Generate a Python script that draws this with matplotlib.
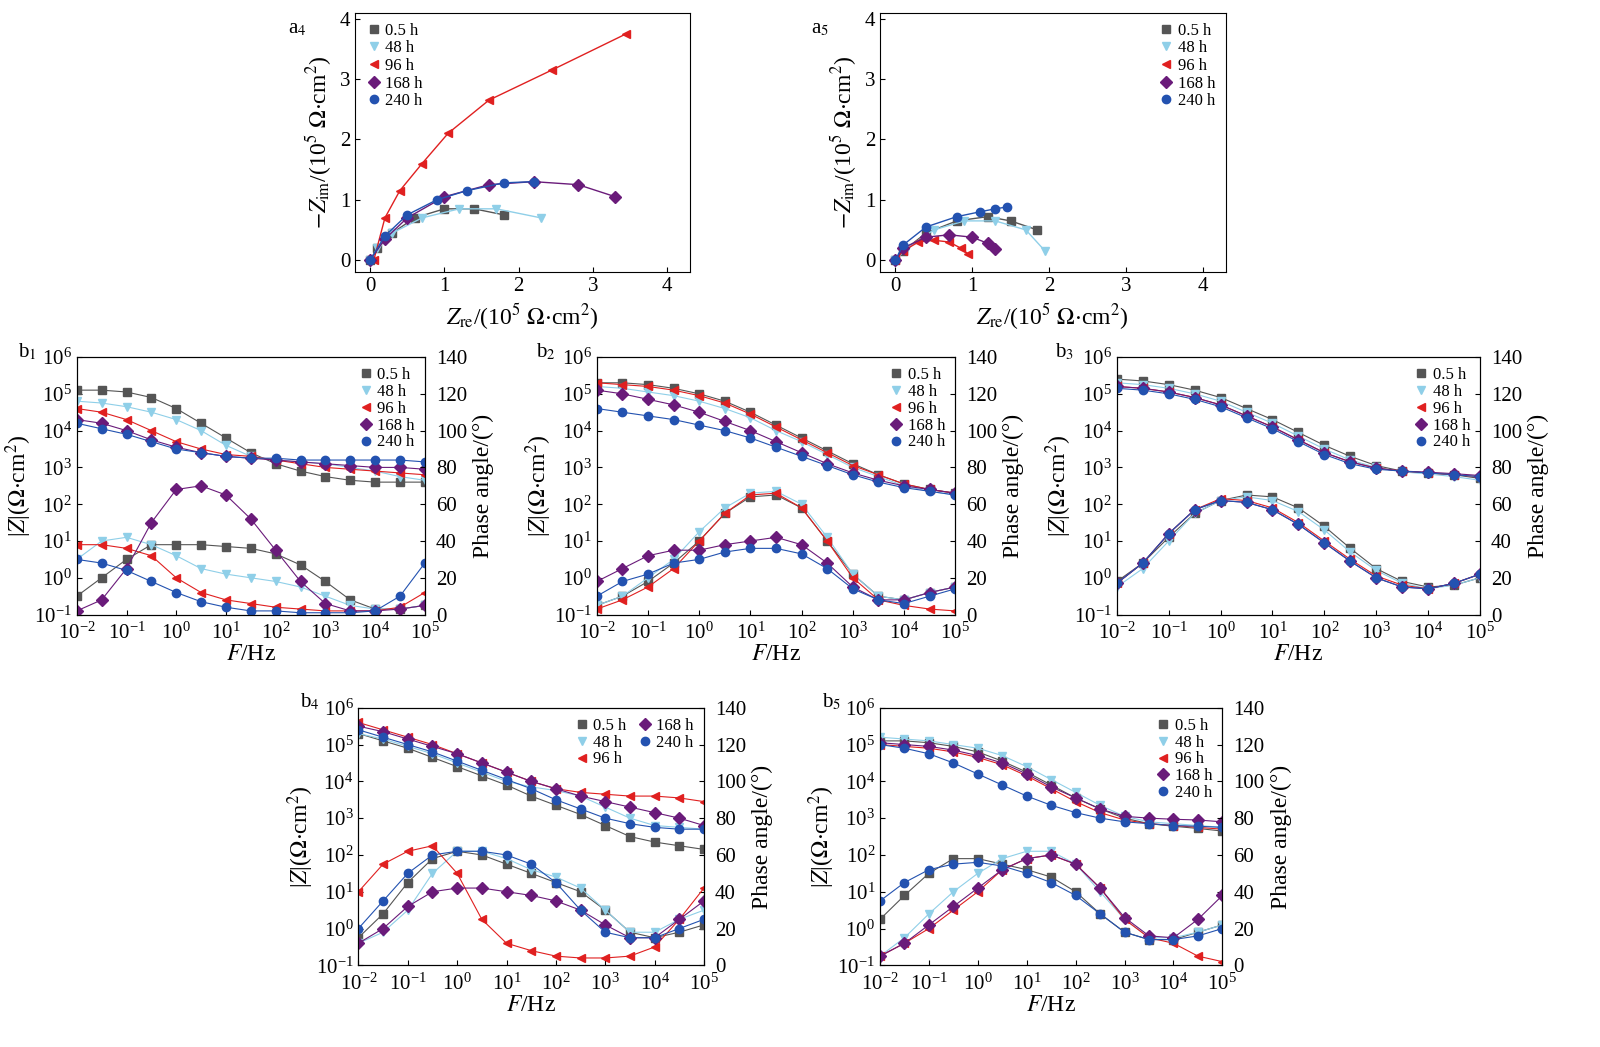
import numpy as np
import matplotlib.pyplot as plt

plt.rcParams['font.family'] = ['Liberation Serif', 'DejaVu Serif']
plt.rcParams['mathtext.fontset'] = 'stix'

labels = ['0.5 h', '48 h', '96 h', '168 h', '240 h']
colors = ['#555555', '#8fcfe8', '#e02020', '#6a1b7a', '#2352b0']
markers = ['s', 'v', '<', 'D', 'o']

# Nyquist data (units 1e5 ohm cm2)
a4_re = [[0, 0.1, 0.3, 0.6, 1.0, 1.4, 1.8],
         [0, 0.1, 0.3, 0.7, 1.2, 1.7, 2.3],
         [0.05, 0.2, 0.4, 0.7, 1.05, 1.6, 2.45, 3.45],
         [0, 0.2, 0.5, 1.0, 1.6, 2.2, 2.8, 3.3],
         [0, 0.2, 0.5, 0.9, 1.3, 1.8, 2.2]]
a4_im = [[0, 0.2, 0.45, 0.7, 0.85, 0.85, 0.75],
         [0, 0.2, 0.45, 0.7, 0.85, 0.85, 0.7],
         [0, 0.7, 1.15, 1.6, 2.1, 2.65, 3.15, 3.75],
         [0, 0.35, 0.7, 1.05, 1.25, 1.3, 1.25, 1.05],
         [0, 0.4, 0.75, 1.0, 1.15, 1.28, 1.3]]
a5_re = [[0, 0.1, 0.4, 0.8, 1.2, 1.5, 1.85],
         [0, 0.15, 0.5, 0.9, 1.3, 1.7, 1.95],
         [0, 0.1, 0.3, 0.5, 0.7, 0.85, 0.95],
         [0, 0.1, 0.4, 0.7, 1.0, 1.2, 1.3],
         [0, 0.1, 0.4, 0.8, 1.1, 1.3, 1.45]]
a5_im = [[0, 0.15, 0.45, 0.65, 0.72, 0.65, 0.5],
         [0, 0.2, 0.5, 0.65, 0.65, 0.5, 0.15],
         [0, 0.15, 0.3, 0.33, 0.3, 0.2, 0.1],
         [0, 0.2, 0.38, 0.42, 0.38, 0.28, 0.18],
         [0, 0.25, 0.55, 0.72, 0.8, 0.85, 0.88]]

# Bode data: frequency every half decade, log10|Z| and phase (deg)
logf = [-2, -1.5, -1, -0.5, 0, 0.5, 1, 1.5, 2, 2.5, 3, 3.5, 4, 4.5, 5]

b1_z = [[5.1, 5.1, 5.05, 4.9, 4.6, 4.2, 3.8, 3.4, 3.1, 2.9, 2.75, 2.65, 2.6, 2.6, 2.6],
        [4.8, 4.75, 4.65, 4.5, 4.3, 4.0, 3.6, 3.3, 3.2, 3.15, 3.1, 3.0, 2.9, 2.75, 2.65],
        [4.6, 4.5, 4.3, 4.0, 3.7, 3.5, 3.35, 3.3, 3.2, 3.1, 3.0, 2.95, 2.9, 2.85, 2.8],
        [4.3, 4.2, 4.0, 3.75, 3.55, 3.4, 3.3, 3.25, 3.2, 3.15, 3.1, 3.05, 3.0, 3.0, 2.95],
        [4.2, 4.05, 3.9, 3.7, 3.5, 3.4, 3.3, 3.25, 3.25, 3.2, 3.2, 3.2, 3.2, 3.2, 3.15]]
b1_p = [[10, 20, 30, 38, 38, 38, 37, 36, 33, 27, 18, 8, 3, 3, 5],
        [30, 40, 42, 38, 32, 25, 22, 20, 18, 15, 10, 5, 3, 3, 5],
        [38, 38, 36, 32, 20, 12, 8, 6, 4, 3, 2, 2, 2, 4, 12],
        [2, 8, 25, 50, 68, 70, 65, 52, 35, 18, 6, 2, 2, 3, 5],
        [30, 28, 24, 18, 12, 7, 4, 2, 2, 1, 1, 1, 2, 10, 28]]

b2_z = [[5.3, 5.3, 5.25, 5.15, 5.0, 4.8, 4.5, 4.15, 3.8, 3.45, 3.1, 2.8, 2.55, 2.4, 2.3],
        [5.2, 5.15, 5.05, 4.95, 4.8, 4.6, 4.35, 4.0, 3.7, 3.35, 3.0, 2.75, 2.5, 2.35, 2.25],
        [5.3, 5.25, 5.2, 5.1, 4.95, 4.75, 4.45, 4.1, 3.75, 3.4, 3.05, 2.8, 2.55, 2.4, 2.3],
        [5.1, 5.0, 4.85, 4.7, 4.5, 4.25, 4.0, 3.7, 3.4, 3.1, 2.85, 2.65, 2.5, 2.4, 2.3],
        [4.6, 4.5, 4.4, 4.3, 4.15, 4.0, 3.8, 3.55, 3.3, 3.05, 2.8, 2.6, 2.45, 2.35, 2.25]]
b2_p = [[5, 10, 18, 28, 40, 55, 64, 65, 58, 40, 22, 10, 8, 12, 15],
        [5, 10, 20, 30, 45, 58, 66, 67, 60, 42, 22, 10, 8, 12, 15],
        [3, 8, 15, 25, 40, 55, 65, 66, 58, 40, 20, 8, 5, 3, 2],
        [18, 25, 32, 35, 35, 38, 40, 42, 38, 28, 15, 8, 8, 12, 15],
        [10, 18, 22, 28, 30, 34, 36, 36, 33, 25, 14, 8, 6, 10, 14]]

b3_z = [[5.4, 5.35, 5.25, 5.1, 4.9, 4.6, 4.3, 3.95, 3.6, 3.3, 3.05, 2.9, 2.85, 2.8, 2.7],
        [5.3, 5.25, 5.15, 5.0, 4.8, 4.5, 4.2, 3.85, 3.5, 3.2, 3.0, 2.88, 2.82, 2.75, 2.65],
        [5.2, 5.15, 5.05, 4.9, 4.7, 4.4, 4.1, 3.75, 3.4, 3.15, 2.98, 2.9, 2.85, 2.8, 2.75],
        [5.2, 5.15, 5.05, 4.9, 4.7, 4.4, 4.1, 3.75, 3.4, 3.15, 2.98, 2.9, 2.87, 2.83, 2.78],
        [5.15, 5.1, 5.0, 4.85, 4.65, 4.35, 4.05, 3.7, 3.35, 3.1, 2.95, 2.9, 2.85, 2.8, 2.75]]
b3_p = [[18, 28, 42, 55, 62, 65, 64, 58, 48, 36, 25, 18, 15, 16, 20],
        [15, 25, 40, 55, 62, 64, 62, 56, 46, 34, 24, 17, 14, 16, 20],
        [17, 28, 44, 57, 63, 62, 58, 50, 40, 30, 21, 16, 14, 17, 22],
        [17, 28, 44, 57, 62, 61, 57, 49, 39, 29, 20, 15, 14, 17, 22],
        [17, 28, 44, 57, 62, 61, 57, 49, 39, 29, 20, 15, 14, 17, 22]]

b4_z = [[5.3, 5.1, 4.9, 4.65, 4.4, 4.15, 3.9, 3.6, 3.35, 3.1, 2.8, 2.5, 2.35, 2.25, 2.15],
        [5.3, 5.15, 4.95, 4.75, 4.5, 4.25, 4.0, 3.85, 3.75, 3.6, 3.3, 3.0, 2.8, 2.75, 2.7],
        [5.6, 5.4, 5.2, 5.0, 4.75, 4.5, 4.25, 4.0, 3.8, 3.7, 3.65, 3.6, 3.6, 3.55, 3.45],
        [5.5, 5.35, 5.15, 4.95, 4.75, 4.5, 4.25, 4.0, 3.8, 3.6, 3.45, 3.3, 3.15, 3.0, 2.8],
        [5.4, 5.2, 5.0, 4.8, 4.55, 4.3, 4.05, 3.8, 3.5, 3.25, 3.0, 2.85, 2.75, 2.7, 2.7]]
b4_p = [[15, 28, 45, 58, 62, 60, 55, 50, 45, 40, 30, 18, 15, 18, 22],
        [12, 18, 30, 50, 62, 62, 58, 52, 48, 42, 30, 18, 18, 25, 30],
        [40, 55, 62, 65, 50, 25, 12, 8, 5, 4, 4, 5, 10, 25, 42],
        [12, 20, 32, 40, 42, 42, 40, 38, 35, 30, 22, 15, 15, 25, 35],
        [20, 35, 50, 60, 62, 62, 60, 55, 45, 30, 18, 15, 15, 20, 25]]

b5_z = [[5.1, 5.1, 5.05, 4.95, 4.8, 4.55, 4.25, 3.9, 3.55, 3.25, 3.0, 2.85, 2.78, 2.72, 2.65],
        [5.2, 5.15, 5.1, 5.0, 4.9, 4.7, 4.4, 4.05, 3.7, 3.35, 3.05, 2.9, 2.85, 2.8, 2.75],
        [5.0, 4.95, 4.9, 4.8, 4.65, 4.45, 4.15, 3.8, 3.45, 3.15, 2.95, 2.85, 2.8, 2.75, 2.7],
        [5.05, 5.0, 4.95, 4.85, 4.7, 4.5, 4.2, 3.85, 3.55, 3.25, 3.05, 3.0, 2.97, 2.95, 2.9],
        [5.0, 4.9, 4.75, 4.5, 4.2, 3.9, 3.6, 3.35, 3.15, 3.0, 2.9, 2.85, 2.8, 2.78, 2.75]]
b5_p = [[25, 38, 50, 58, 58, 55, 52, 48, 40, 28, 18, 14, 14, 18, 22],
        [5, 15, 28, 40, 50, 58, 62, 62, 55, 40, 25, 15, 15, 18, 22],
        [5, 12, 20, 30, 40, 52, 58, 60, 55, 42, 25, 15, 12, 5, 2],
        [5, 12, 22, 32, 42, 52, 58, 60, 55, 42, 26, 16, 15, 25, 38],
        [35, 45, 52, 55, 56, 54, 50, 45, 38, 28, 18, 14, 14, 16, 20]]

fig = plt.figure(figsize=(16, 10.47), dpi=100)
fs = 15


def nyquist(rect, re, im, tag, legloc):
    ax = fig.add_axes(rect)
    for i in range(5):
        ax.plot(re[i], im[i], color=colors[i], lw=1)
        ax.plot(re[i], im[i], ls='none', marker=markers[i], color=colors[i], ms=6, label=labels[i])
    ax.set_xlim(-0.2, 4.3)
    ax.set_ylim(-0.2, 4.1)
    ax.set_xticks(range(5))
    ax.set_yticks(range(5))
    ax.tick_params(labelsize=fs, direction='in')
    ax.set_xlabel(r'$Z_{\rm re}$/(10$^5$ $\Omega$$\cdot$cm$^2$)', fontsize=fs + 2)
    ax.set_ylabel(r'$-Z_{\rm im}$/(10$^5$ $\Omega$$\cdot$cm$^2$)', fontsize=fs + 2)
    ax.legend(loc=legloc, fontsize=12, frameon=False, handletextpad=0.2, labelspacing=0.1,
              borderaxespad=0.2, handlelength=1)
    ax.text(-0.2, 0.92, tag, transform=ax.transAxes, fontsize=fs)


def bode(rect, zz, pp, tag, ncol=1):
    ax = fig.add_axes(rect)
    f = 10.0 ** np.array(logf)
    for i in range(5):
        ax.plot(f, 10.0 ** np.array(zz[i]), color=colors[i], lw=0.8)
        ax.plot(f, 10.0 ** np.array(zz[i]), ls='none', marker=markers[i], color=colors[i],
                ms=6, label=labels[i])
    ax.set_xscale('log')
    ax.set_yscale('log')
    ax.set_xlim(1e-2, 1e5)
    ax.set_ylim(1e-1, 1e6)
    ax.set_xticks(10.0 ** np.arange(-2, 6))
    ax.set_yticks(10.0 ** np.arange(-1, 7))
    ax.minorticks_off()
    ax.tick_params(labelsize=fs, direction='in')
    ax.tick_params(axis='x', pad=6)
    ax.set_xlabel(r'$F$/Hz', fontsize=fs + 2, labelpad=0)
    ax.set_ylabel(r'|$Z$|($\Omega$$\cdot$cm$^2$)', fontsize=fs + 2, labelpad=0)
    ax2 = ax.twinx()
    for i in range(5):
        ax2.plot(f, pp[i], color=colors[i], lw=0.8)
        ax2.plot(f, pp[i], ls='none', marker=markers[i], color=colors[i], ms=6)
    ax2.set_ylim(0, 140)
    ax2.set_yticks(range(0, 141, 20))
    ax2.tick_params(labelsize=fs, direction='in', pad=8)
    ax2.set_ylabel('Phase angle/(°)', fontsize=fs + 2)
    ax.legend(loc='upper right', fontsize=12, frameon=False, ncol=ncol, handletextpad=0.2,
              labelspacing=0.05, borderaxespad=0.2, handlelength=1, columnspacing=0.6)
    ax.text(-0.17, 1.0, tag, transform=ax.transAxes, fontsize=fs)


nyquist([0.222, 0.740, 0.209, 0.248], a4_re, a4_im, r'a$_4$', 'upper left')
nyquist([0.550, 0.740, 0.216, 0.248], a5_re, a5_im, r'a$_5$', 'upper right')
bode([0.048, 0.413, 0.2175, 0.246], b1_z, b1_p, r'b$_1$')
bode([0.373, 0.413, 0.224, 0.246], b2_z, b2_p, r'b$_2$')
bode([0.698, 0.413, 0.227, 0.246], b3_z, b3_p, r'b$_3$')
bode([0.224, 0.078, 0.216, 0.246], b4_z, b4_p, r'b$_4$', ncol=2)
bode([0.550, 0.078, 0.214, 0.246], b5_z, b5_p, r'b$_5$')

fig.savefig('out.png', dpi=100)
